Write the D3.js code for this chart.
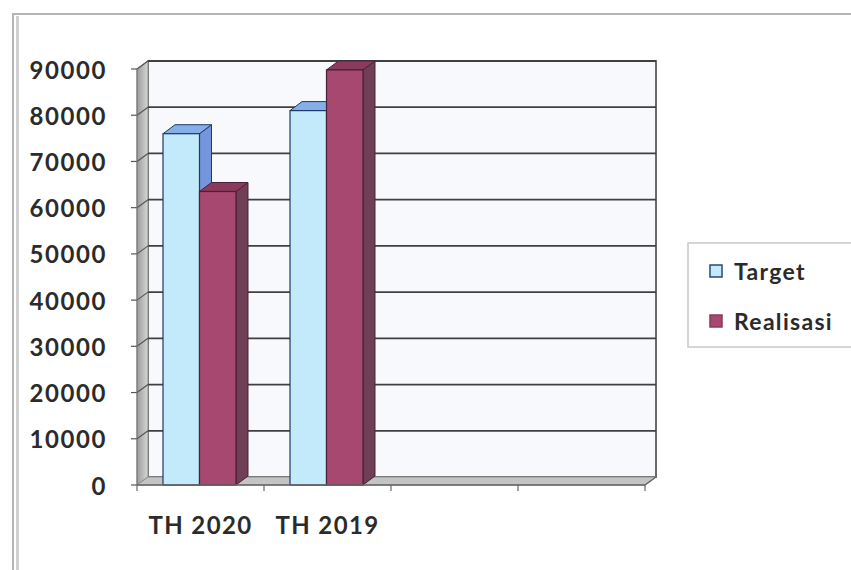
<!DOCTYPE html>
<html>
<head>
<meta charset="utf-8">
<script src="https://cdn.jsdelivr.net/npm/d3@7"></script>
<style>
  html, body { margin: 0; padding: 0; background: #ffffff; }
  svg { display: block; }
  text { font-family: Lato, "Open Sans", "Liberation Sans", sans-serif; font-weight: bold; fill: #2b2b2b; }
</style>
</head>
<body>
<svg id="chart" width="851" height="570"></svg>
<script>
// ---- data ----
const categories = ["TH 2020", "TH 2019", "", ""];
const seriesNames = ["Target", "Realisasi"];
const targetValues = [76000, 81000, null, null];
const realisasiValues = [63500, 89800, null, null];
const yTicks = [0, 10000, 20000, 30000, 40000, 50000, 60000, 70000, 80000, 90000];

// ---- layout ----
const svg = d3.select("#chart");
const W = 851, H = 570;
const frontLeft = 137, frontRight = 645;
const wallDx = 11, wallDy = -8;
const barDx = 12, barDy = -9;

const x = d3.scaleBand().domain(categories.map((c, i) => i)).range([frontLeft, frontRight]).paddingInner(0).paddingOuter(0);
const y = d3.scaleLinear().domain([0, 90000]).range([485, 69]);
const inner = d3.scaleBand().domain(seriesNames).range([-1, x.bandwidth() - 1]).paddingInner(0).paddingOuter(0.74);

const colors = {
  Target: { front: "#c2eafb", top: "#86aee8", side: "#7596dc", stroke: "#1f3a66" },
  Realisasi: { front: "#a6486f", top: "#8a3a5c", side: "#6f3f56", stroke: "#4a2038" }
};

// outer chart border
svg.append("rect").attr("x", 13).attr("y", 14).attr("width", W + 10).attr("height", H + 10)
  .attr("fill", "none").attr("stroke", "#b4b4b4").attr("stroke-width", 2);
svg.append("line").attr("x1", 17.5).attr("x2", 17.5).attr("y1", 16).attr("y2", H)
  .attr("stroke", "#d0d0d0").attr("stroke-width", 3);

const defs = svg.append("defs");
const sideGrad = defs.append("linearGradient").attr("id", "sideGrad").attr("x1", "0").attr("x2", "1").attr("y1", "0").attr("y2", "0");
sideGrad.append("stop").attr("offset", "0").attr("stop-color", "#9c9c9c");
sideGrad.append("stop").attr("offset", "1").attr("stop-color", "#d6d6d6");

const y0 = y(0), yTop = y(90000);

// back wall
svg.append("rect")
  .attr("x", frontLeft + wallDx).attr("y", yTop + wallDy)
  .attr("width", frontRight - frontLeft)
  .attr("height", y0 - yTop)
  .attr("fill", "#f7f9fc").attr("stroke", "#5a5a5a").attr("stroke-width", 1.8);

// side wall
svg.append("polygon")
  .attr("points", [[frontLeft, y0], [frontLeft + wallDx, y0 + wallDy], [frontLeft + wallDx, yTop + wallDy], [frontLeft, yTop]].map(p => p.join(",")).join(" "))
  .attr("fill", "url(#sideGrad)").attr("stroke", "#8a8a8a").attr("stroke-width", 1);

// floor
svg.append("polygon")
  .attr("points", [[frontLeft, y0], [frontLeft + wallDx, y0 + wallDy], [frontRight + wallDx, y0 + wallDy], [frontRight, y0]].map(p => p.join(",")).join(" "))
  .attr("fill", "#c4c4c4").attr("stroke", "#8c8c8c").attr("stroke-width", 1);

// gridlines on back wall and side wall
const grid = svg.append("g");
yTicks.filter(v => v > 0).forEach(v => {
  grid.append("line")
    .attr("x1", frontLeft + wallDx).attr("x2", frontRight + wallDx)
    .attr("y1", y(v) + wallDy).attr("y2", y(v) + wallDy)
    .attr("stroke", "#404040").attr("stroke-width", 1.8);
  grid.append("line")
    .attr("x1", frontLeft).attr("x2", frontLeft + wallDx)
    .attr("y1", y(v)).attr("y2", y(v) + wallDy)
    .attr("stroke", "#555").attr("stroke-width", 1.2);
});

// y axis ticks + labels
const yAxisG = svg.append("g");
yTicks.forEach(v => {
  yAxisG.append("line").attr("x1", frontLeft - 6).attr("x2", frontLeft)
    .attr("y1", y(v)).attr("y2", y(v)).attr("stroke", "#555").attr("stroke-width", 1.2);
  yAxisG.append("text").attr("x", 107).attr("y", y(v))
    .attr("text-anchor", "end").attr("dominant-baseline", "central")
    .style("font-size", "24px").style("letter-spacing", "1.6px").text(v);
});
svg.append("line").attr("x1", frontLeft).attr("x2", frontLeft).attr("y1", yTop).attr("y2", y0)
  .attr("stroke", "#777").attr("stroke-width", 1);

// bars
const bars = svg.append("g");
categories.forEach((c, i) => {
  const vals = { Target: targetValues[i], Realisasi: realisasiValues[i] };
  seriesNames.forEach(s => {
    const v = vals[s];
    if (v == null) return;
    const bx = x(i) + inner(s), bw = inner.bandwidth();
    const by = y(v), bb = y(0);
    const col = colors[s];
    // side face
    bars.append("polygon")
      .attr("points", [[bx + bw, by], [bx + bw + barDx, by + barDy], [bx + bw + barDx, bb + barDy], [bx + bw, bb]].map(p => p.join(",")).join(" "))
      .attr("fill", col.side).attr("stroke", col.stroke).attr("stroke-width", 1);
    // top face
    bars.append("polygon")
      .attr("points", [[bx, by], [bx + barDx, by + barDy], [bx + bw + barDx, by + barDy], [bx + bw, by]].map(p => p.join(",")).join(" "))
      .attr("fill", col.top).attr("stroke", col.stroke).attr("stroke-width", 1);
    // front face
    bars.append("rect").attr("x", bx).attr("y", by).attr("width", bw).attr("height", bb - by)
      .attr("fill", col.front).attr("stroke", col.stroke).attr("stroke-width", 1.2);
  });
});

// x axis line and ticks
svg.append("line").attr("x1", frontLeft).attr("x2", frontRight).attr("y1", y0).attr("y2", y0)
  .attr("stroke", "#666").attr("stroke-width", 1.5);
svg.append("line").attr("x1", frontRight).attr("x2", frontRight + wallDx).attr("y1", y0).attr("y2", y0 + wallDy)
  .attr("stroke", "#666").attr("stroke-width", 1.5);
const bounds = categories.map((c, i) => x(i)).concat([frontRight]);
bounds.forEach(bx => {
  svg.append("line").attr("x1", bx).attr("x2", bx).attr("y1", y0).attr("y2", y0 + 6)
    .attr("stroke", "#666").attr("stroke-width", 1.2);
});
categories.forEach((c, i) => {
  svg.append("text").attr("x", x(i) + x.bandwidth() / 2).attr("y", 534)
    .attr("text-anchor", "middle").style("font-size", "24px").style("letter-spacing", "1.4px").text(c);
});

// legend
const lg = svg.append("g");
lg.append("rect").attr("x", 688).attr("y", 243).attr("width", 180).attr("height", 104)
  .attr("fill", "#ffffff").attr("stroke", "#c8c8c8").attr("stroke-width", 1.5);
seriesNames.forEach((s, k) => {
  const cy = 271 + k * 50;
  lg.append("rect").attr("x", 710).attr("y", cy - 6).attr("width", 12).attr("height", 12)
    .attr("fill", colors[s].front).attr("stroke", k === 0 ? "#2a4a70" : "#8a3a5c").attr("stroke-width", 1.5);
  lg.append("text").attr("x", 734).attr("y", cy).attr("dominant-baseline", "central")
    .style("font-size", "23px").style("letter-spacing", "1.3px").text(s);
});
</script>
</body>
</html>
